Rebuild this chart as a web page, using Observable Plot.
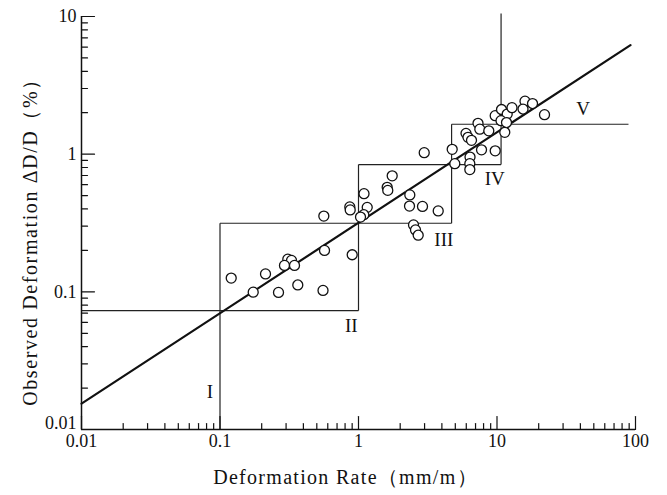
<!DOCTYPE html>
<html><head><meta charset="utf-8">
<script src="https://cdn.jsdelivr.net/npm/d3@7"></script>
<script src="https://cdn.jsdelivr.net/npm/@observablehq/plot@0.6"></script>
<style>
html,body{margin:0;padding:0;background:#fff;}
#chart svg{display:block;}
</style></head><body><div id="chart"></div>
<script>
// Observed points: deformation rate (mm/m) vs observed deformation ΔD/D (%)
const rateX = [0.1205,0.1737,0.2131,0.2645,0.3087,0.3283,0.2921,0.3451,0.3645,0.5544,
  0.5684,0.9005,0.5619,0.8654,0.8712,1.096,1.156,1.092,1.034,1.611,
  1.627,1.751,2.347,2.335,2.898,3.763,2.496,2.580,2.698,2.982,
  4.748,4.958,6.386,6.364,6.364,7.731,9.705,5.973,6.174,6.545,
  7.293,7.514,8.726,9.705,10.78,11.85,12.83,10.69,11.71,11.38,
  15.93,15.41,18.05,22.03];
const deformY = [0.1258,0.0995,0.1349,0.0990,0.1728,0.1691,0.1555,0.1555,0.1122,0.1024,
  0.2000,0.1860,0.3549,0.4140,0.3937,0.5163,0.4107,0.3633,0.3490,0.5739,
  0.5457,0.6956,0.5061,0.4196,0.4175,0.3871,0.3064,0.2818,0.2578,1.025,
  1.084,0.853,0.953,0.853,0.773,1.075,1.057,1.416,1.325,1.260,
  1.674,1.519,1.477,1.905,2.110,1.956,2.177,1.752,1.697,1.440,
  2.428,2.127,2.332,1.937];

// Fitted line end points
const fitX = [0.01, 92];
const fitY = [0.0154, 6.2];

// Zone boundary segments
const segX1 = [0.01, 0.1, 0.1, 1, 1, 4.7, 4.7, 10.7];
const segY1 = [0.073, 0.01, 0.315, 0.073, 0.84, 0.315, 1.65, 0.84];
const segX2 = [1, 0.1, 4.7, 1, 10.7, 4.7, 89, 10.7];
const segY2 = [0.073, 0.315, 0.315, 0.84, 0.84, 1.65, 1.65, 10.5];

// Zone labels
const zoneLabels = ["I", "II", "III", "IV", "V"];
const zoneX = [0.0844, 0.886, 4.13, 9.64, 41.9];
const zoneY = [0.0187, 0.057, 0.239, 0.664, 2.14];

// Axes
const xMajor = [0.01, 0.1, 1, 10, 100];
const xTickLabels = ["0.01", "0.1", "1", "10", "100"];
const yMajor = [0.01, 0.1, 1, 10];
const yTickLabels = ["0.01", "0.1", "1", "10"];
const xTitle = "Deformation Rate（mm/m）";
const yTitle = "Observed Deformation ΔD/D（%）";

const minorOf = (majors) => majors.slice(0, -1).flatMap(m => [2,3,4,5,6,7,8,9].map(k => +(m * k).toPrecision(3)));
const xMinor = minorOf(xMajor);
const yMinor = minorOf(yMajor);

const pts = rateX.map((x, i) => ({x, y: deformY[i]}));
const fit = fitX.map((x, i) => ({x, y: fitY[i]}));
const segs = segX1.map((x1, i) => ({x1, y1: segY1[i], x2: segX2[i], y2: segY2[i]}));
const zones = zoneLabels.map((t, i) => ({t, x: zoneX[i], y: zoneY[i]}));

const ink = "#111";
// inward tick: a plain stroke along the vector direction
const tickShape = {draw(context, l) { context.moveTo(0, 0); context.lineTo(0, -l); }};
const xTicks = (vals, len) => Plot.vector(vals, {x: d => d, y: () => 0.01, length: len, rotate: 0,
  anchor: "start", shape: tickShape, stroke: ink, strokeWidth: 1.2});
const yTicks = (vals, len) => Plot.vector(vals, {x: () => 0.01, y: d => d, length: len, rotate: 90,
  anchor: "start", shape: tickShape, stroke: ink, strokeWidth: 1.2});

const chart = Plot.plot({
  width: 667, height: 495,
  marginLeft: 81, marginRight: 32, marginTop: 16, marginBottom: 66,
  style: {fontFamily: "'Liberation Serif', 'Times New Roman', serif", fontSize: "18px", color: ink, background: "#fff"},
  x: {type: "log", domain: [0.01, 100], axis: null},
  y: {type: "log", domain: [0.01, 10], axis: null},
  marks: [
    Plot.link(segs, {x1: "x1", y1: "y1", x2: "x2", y2: "y2", stroke: "#222", strokeWidth: 1.2}),
    Plot.line(fit, {x: "x", y: "y", stroke: ink, strokeWidth: 2.2}),
    Plot.dot(pts, {x: "x", y: "y", r: 5, fill: "white", stroke: ink, strokeWidth: 1.3}),
    Plot.text(zones, {x: "x", y: "y", text: "t", fontSize: 19, fill: ink}),
    Plot.ruleX([0.01], {stroke: ink, strokeWidth: 1.5}),
    Plot.ruleY([0.01], {stroke: ink, strokeWidth: 1.5}),
    xTicks(xMajor, 13),
    xTicks(xMinor, 6),
    yTicks(yMajor, 13),
    yTicks(yMinor, 6),
    Plot.axisX({ticks: xMajor, tickSize: 0, tickPadding: 5, fill: ink, label: null,
      tickFormat: d => xTickLabels[xMajor.indexOf(d)]}),
    Plot.axisY({ticks: yMajor.slice(1), tickSize: 0, tickPadding: 5, fill: ink, label: null,
      tickFormat: d => yTickLabels[yMajor.indexOf(d)]}),
    Plot.axisY({ticks: yMajor.slice(0, 1), tickSize: 0, tickPadding: 5, dy: -6, fill: ink, label: null,
      tickFormat: d => yTickLabels[yMajor.indexOf(d)]}),
    Plot.text([xTitle], {frameAnchor: "bottom", textAnchor: "middle", dx: -13, dy: 54, fontSize: 20, fill: ink}),
    Plot.text([yTitle], {frameAnchor: "left", textAnchor: "middle", dx: -51, dy: 14, rotate: -90, fontSize: 20, fill: ink})
  ]
});
d3.select(chart).selectAll("text").filter(function(){ return this.textContent === xTitle; })
  .style("letter-spacing", "1.3px");
d3.select(chart).selectAll("text").filter(function(){ return this.textContent === yTitle; })
  .style("letter-spacing", "1.6px");
document.getElementById("chart").appendChild(chart);
</script></body></html>
